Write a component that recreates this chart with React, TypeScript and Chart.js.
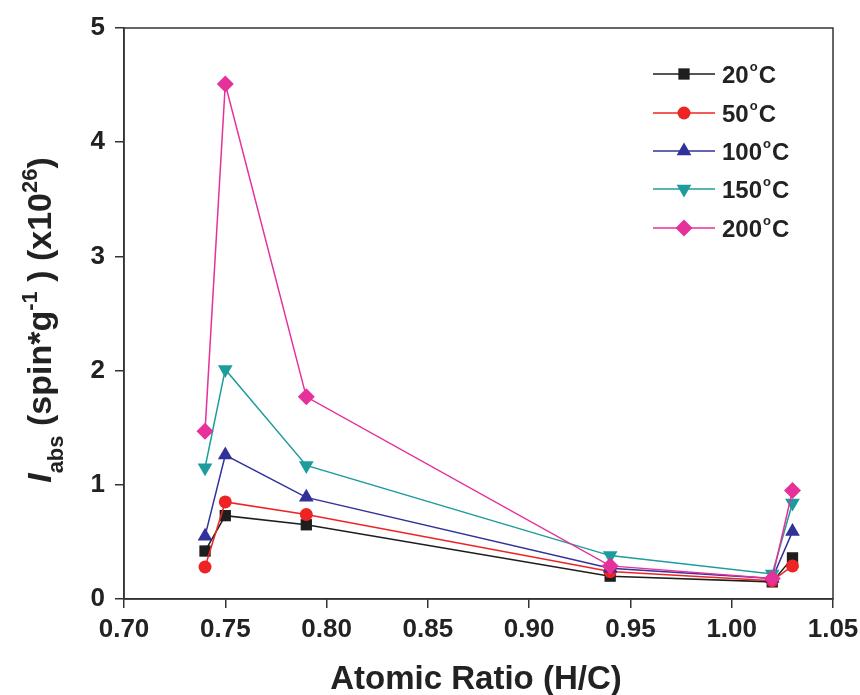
import React, { useEffect, useRef } from "react";
import { Chart, registerables } from "chart.js";

Chart.register(...registerables);

const atomicRatio = [0.74, 0.75, 0.79, 0.94, 1.02, 1.03];
const s20 = [0.42, 0.73, 0.65, 0.2, 0.15, 0.36];
const s50 = [0.28, 0.85, 0.74, 0.24, 0.16, 0.29];
const s100 = [0.55, 1.26, 0.89, 0.27, 0.18, 0.59];
const s150 = [1.15, 2.01, 1.17, 0.38, 0.22, 0.84];
const s200 = [1.47, 4.51, 1.77, 0.29, 0.18, 0.95];
const seriesLabels = ["20", "50", "100", "150", "200"];
const xTicks = [0.7, 0.75, 0.8, 0.85, 0.9, 0.95, 1.0, 1.05];
const yTicks = [0, 1, 2, 3, 4, 5];

const colors = ["#1e1e1e", "#ee2424", "#31319a", "#1c9c9c", "#e6309a"];
const styles = ["rect", "circle", "triangle", "triangle", "rectRot"];
const rotations = [0, 0, 0, 180, 0];
const radii = [8, 6.5, 8.5, 8.5, 8.5];
const seriesValues = [s20, s50, s100, s150, s200];

const FONT = "'Liberation Sans', Arial, Helvetica, sans-serif";

function drawMarker(ctx: CanvasRenderingContext2D, i: number, x: number, y: number) {
  const r = radii[i];
  ctx.save();
  ctx.fillStyle = colors[i];
  ctx.beginPath();
  const st = styles[i];
  if (st === "rect") {
    const s = Math.SQRT1_2 * r;
    ctx.rect(x - s, y - s, 2 * s, 2 * s);
  } else if (st === "circle") {
    ctx.arc(x, y, r, 0, Math.PI * 2);
  } else if (st === "triangle") {
    const dir = rotations[i] === 180 ? -1 : 1;
    ctx.moveTo(x, y - dir * r);
    ctx.lineTo(x + r * Math.cos(Math.PI / 6), y + dir * r * 0.5);
    ctx.lineTo(x - r * Math.cos(Math.PI / 6), y + dir * r * 0.5);
    ctx.closePath();
  } else {
    ctx.moveTo(x, y - r);
    ctx.lineTo(x + r, y);
    ctx.lineTo(x, y + r);
    ctx.lineTo(x - r, y);
    ctx.closePath();
  }
  ctx.fill();
  ctx.restore();
}

const decorPlugin = {
  id: "decor",
  afterDraw(chart: any) {
    const ctx: CanvasRenderingContext2D = chart.ctx;
    const a = chart.chartArea;
    ctx.save();
    // frame
    ctx.strokeStyle = "#333";
    ctx.lineWidth = 1.5;
    ctx.strokeRect(a.left, a.top, a.right - a.left, a.bottom - a.top);

    // legend
    const rowY = [74, 113, 151, 189, 228];
    for (let i = 0; i < 5; i++) {
      const y = rowY[i];
      ctx.strokeStyle = colors[i];
      ctx.lineWidth = 1.5;
      ctx.beginPath();
      ctx.moveTo(653, y);
      ctx.lineTo(715, y);
      ctx.stroke();
      drawMarker(ctx, i, 684, y);
      ctx.fillStyle = "#222";
      ctx.textBaseline = "alphabetic";
      ctx.textAlign = "left";
      let x = 722;
      ctx.font = `bold 24px ${FONT}`;
      ctx.fillText(seriesLabels[i], x, y + 9);
      x += ctx.measureText(seriesLabels[i]).width + 1;
      ctx.font = `bold 13px ${FONT}`;
      ctx.fillText("o", x, y - 3);
      x += ctx.measureText("o").width + 1;
      ctx.font = `bold 24px ${FONT}`;
      ctx.fillText("C", x, y + 9);
    }

    // x title
    ctx.fillStyle = "#222";
    ctx.font = `bold 33px ${FONT}`;
    ctx.textAlign = "center";
    ctx.textBaseline = "alphabetic";
    ctx.fillText("Atomic Ratio (H/C)", 476, 689);

    // y title
    const big = 34;
    const small = 22;
    const parts = [
      { t: "I", f: `italic bold ${big}px ${FONT}`, dy: 0 },
      { t: "abs", f: `bold ${small}px ${FONT}`, dy: 12 },
      { t: " (spin*g", f: `bold ${big}px ${FONT}`, dy: 0 },
      { t: "-1", f: `bold ${small}px ${FONT}`, dy: -14 },
      { t: " ) (x10", f: `bold ${big}px ${FONT}`, dy: 0 },
      { t: "26", f: `bold ${small}px ${FONT}`, dy: -14 },
      { t: ")", f: `bold ${big}px ${FONT}`, dy: 0 },
    ];
    let total = 0;
    const widths: number[] = [];
    for (const p of parts) {
      ctx.font = p.f;
      const w = ctx.measureText(p.t).width;
      widths.push(w);
      total += w;
    }
    ctx.translate(51, 320);
    ctx.rotate(-Math.PI / 2);
    ctx.textAlign = "left";
    let px = -total / 2;
    parts.forEach((p, k) => {
      ctx.font = p.f;
      ctx.fillText(p.t, px, p.dy);
      px += widths[k];
    });
    ctx.restore();
  },
};

export default function App() {
  const ref = useRef<HTMLCanvasElement>(null);
  useEffect(() => {
    if (!ref.current) return;
    const datasets = seriesValues.map((vals, i) => ({
      label: seriesLabels[i] + "°C",
      data: atomicRatio.map((x, k) => ({ x, y: vals[k] })),
      borderColor: colors[i],
      backgroundColor: colors[i],
      borderWidth: 1.5,
      pointStyle: styles[i] as any,
      rotation: rotations[i],
      pointRotation: rotations[i],
      pointRadius: radii[i],
      pointBorderWidth: 0,
      pointBackgroundColor: colors[i],
      pointBorderColor: colors[i],
      tension: 0,
      order: 5 - i,
    }));
    const tickFont = { family: FONT, weight: "bold" as const, size: 26 };
    const chart = new Chart(ref.current, {
      type: "line",
      data: { datasets },
      plugins: [decorPlugin],
      options: {
        animation: false,
        responsive: false,
        layout: { padding: { top: 28, right: 27, left: 0, bottom: 0 } },
        plugins: { legend: { display: false }, tooltip: { enabled: false } },
        scales: {
          x: {
            type: "linear",
            min: 0.7,
            max: 1.05,
            afterBuildTicks: (s: any) => {
              s.ticks = xTicks.map((v) => ({ value: v }));
            },
            afterFit: (s: any) => {
              s.height = 96;
              s.paddingLeft = 0;
              s.paddingRight = 0;
            },
            ticks: {
              font: tickFont,
              color: "#222",
              padding: 6,
              maxRotation: 0,
              autoSkip: false,
              callback: (v: any) => Number(v).toFixed(2),
            },
            grid: { drawOnChartArea: false, drawTicks: true, tickLength: 9, color: "#333", lineWidth: 1.5 },
            border: { display: true, color: "#333", width: 1.5 },
          },
          y: {
            type: "linear",
            min: 0,
            max: 5,
            afterBuildTicks: (s: any) => {
              s.ticks = yTicks.map((v) => ({ value: v }));
            },
            afterFit: (s: any) => {
              s.width = 124;
              s.paddingTop = 0;
              s.paddingBottom = 0;
            },
            ticks: {
              font: tickFont,
              color: "#222",
              padding: 10,
              autoSkip: false,
            },
            grid: { drawOnChartArea: false, drawTicks: true, tickLength: 9, color: "#333", lineWidth: 1.5 },
            border: { display: true, color: "#333", width: 1.5 },
          },
        },
      },
    });
    return () => chart.destroy();
  }, []);
  return (
    <div style={{ position: "absolute", left: 0, top: 0, width: 860, height: 695, background: "#fff" }}>
      <canvas ref={ref} width={860} height={695} style={{ display: "block", width: 860, height: 695 }} />
    </div>
  );
}
